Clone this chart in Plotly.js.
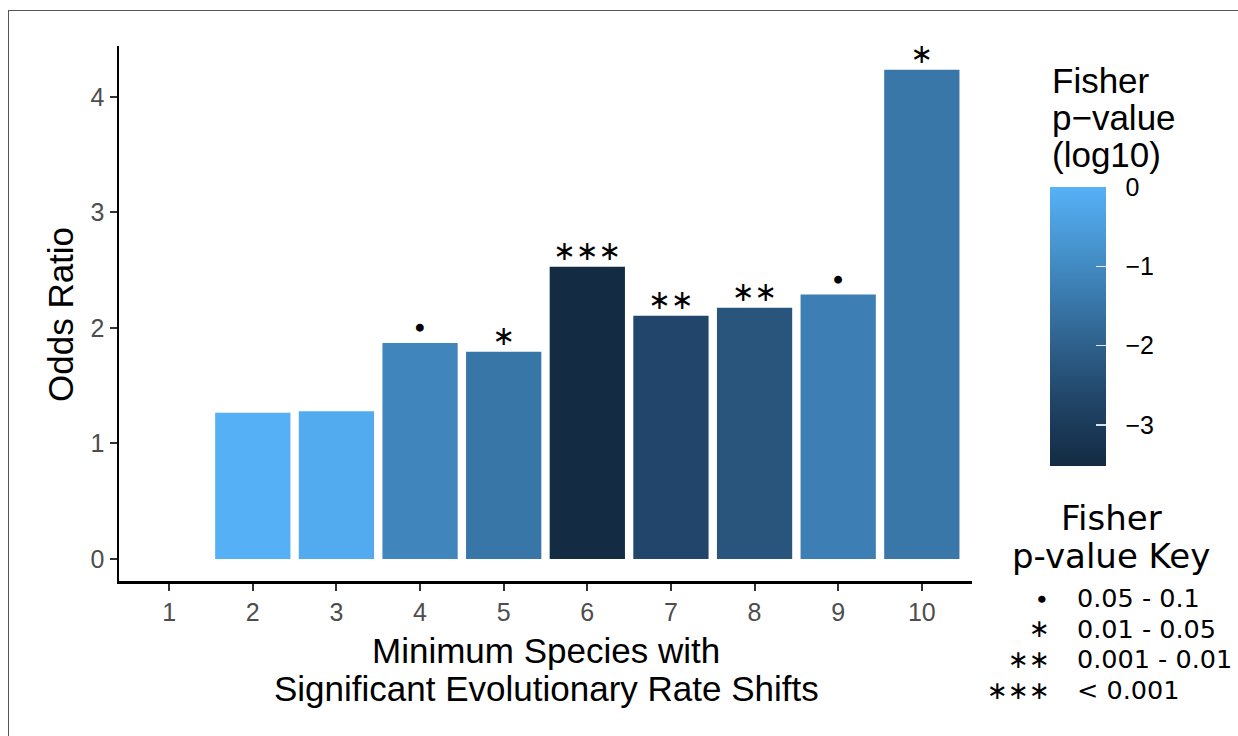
<!DOCTYPE html>
<html>
<head>
<meta charset="utf-8">
<script src="https://cdn.plot.ly/plotly-3.0.1.min.js"></script>
<style>
  html, body { margin: 0; padding: 0; background: #fff; }
  #wrap { position: absolute; left: 0; top: 0; width: 1238px; height: 736px; }
  #frame { position: absolute; left: 8px; top: 10px; right: 0; bottom: 0; border-left: 1.5px solid #555; border-top: 1.5px solid #555; pointer-events: none; z-index: 5; }
  #chart { position: absolute; left: 0; top: 0; width: 1238px; height: 736px; }
</style>
</head>
<body>
<div id="wrap">
  <div id="chart"></div>
  <div id="frame"></div>
</div>
<script>
// ---- data ----
const categories = [1, 2, 3, 4, 5, 6, 7, 8, 9, 10];
const oddsRatio = [null, 1.265, 1.28, 1.87, 1.795, 2.53, 2.105, 2.175, 2.29, 4.235];
const log10P = [null, -0.02, -0.15, -1.10, -1.47, -3.52, -2.63, -2.29, -1.25, -1.45];
const sigLabels = ["", "", "", "∙", "∗", "∗∗∗", "∗∗", "∗∗", "∙", "∗"];
const xTickLabels = ["1", "2", "3", "4", "5", "6", "7", "8", "9", "10"];
const yTickVals = [0, 1, 2, 3, 4];
const colorTicks = [0, -1, -2, -3];
const colorTitleLines = ["Fisher", "p\u2212value", "(log10)"];
const keyTitleLines = ["Fisher", "p-value Key"];
const keySymbols = ["∙", "∗", "∗∗", "∗∗∗"];
const keyRanges = ["0.05 - 0.1", "0.01 - 0.05", "0.001 - 0.01", "< 0.001"];
const xTitleLines = ["Minimum Species with", "Significant Evolutionary Rate Shifts"];
const yTitle = "Odds Ratio";

// ---- layout geometry helpers (pixels -> paper) ----
const L = 119, R = 972, T = 46, B = 581;
const px = v => (v - L) / (R - L);
const py = v => (B - v) / (B - T);

const SANS = "Liberation Sans, Arial, sans-serif";
const DEJA = "DejaVu Sans, Verdana, sans-serif";

const cmin = -3.52, cmax = 0;
const colorscale = [
  [0, "#132B43"],
  [0.25, "#22466A"],
  [0.5, "#336A98"],
  [0.75, "#448FC8"],
  [1, "#56B1F7"]
];

const bars = {
  type: "bar",
  x: categories,
  y: oddsRatio,
  width: 0.9,
  marker: {
    color: log10P,
    colorscale: colorscale,
    cmin: cmin,
    cmax: cmax,
    showscale: true,
    line: { width: 0 },
    colorbar: {
      xref: "paper",
      yref: "paper",
      x: px(1050),
      xanchor: "left",
      y: py(466),
      yanchor: "bottom",
      len: 279,
      lenmode: "pixels",
      thickness: 56,
      thicknessmode: "pixels",
      outlinewidth: 0,
      tickvals: colorTicks,
      ticktext: colorTicks.map(v => "\u00a0\u00a0" + (v === 0 ? "0" : "\u2212" + Math.abs(v))),
      ticks: "inside",
      ticklen: 10,
      tickwidth: 1.5,
      tickcolor: "rgba(255,255,255,0.85)",
      tickfont: { family: SANS, size: 25, color: "#000" },
      xpad: 0,
      ypad: 0
    }
  },
  hoverinfo: "x+y",
  showlegend: false
};

const labels = {
  type: "scatter",
  mode: "text",
  x: categories,
  y: oddsRatio,
  text: sigLabels,
  textposition: "top center",
  textfont: { family: "DejaVu Sans, sans-serif", size: 27, color: "#000" },
  hoverinfo: "skip",
  showlegend: false
};

const annotations = [];
function ann(text, xp, yp, xanchor, font, extra) {
  annotations.push(Object.assign({
    xref: "paper", yref: "paper",
    x: px(xp), y: py(yp),
    text: text, showarrow: false,
    xanchor: xanchor, yanchor: "middle",
    font: font
  }, extra || {}));
}
// axis titles
xTitleLines.forEach((t, i) => ann(t, 546, 650 + i * 38, "center", { family: SANS, size: 35, color: "#000" }));
ann(yTitle, 60, 315, "center", { family: SANS, size: 35, color: "#000" }, { textangle: -90 });
// colorbar title
colorTitleLines.forEach((t, i) => ann(t, 1050, 80 + i * 37, "left", { family: SANS, size: 35, color: "#000" }));
// key
keyTitleLines.forEach((t, i) => ann(t, 1111, 518 + i * 38, "center", { family: DEJA, size: 34, color: "#000" }));
keySymbols.forEach((s, i) => {
  const yy = 598 + i * 30.7;
  ann(s, 1052, yy, "right", { family: DEJA, size: 25, color: "#000" });
  ann(keyRanges[i], 1075, yy, "left", { family: DEJA, size: 25.5, color: "#000" });
});

const axisCommon = {
  showgrid: false,
  zeroline: false,
  showline: true,
  linecolor: "#000",
  linewidth: 2.5,
  ticks: "outside",
  ticklen: 7,
  tickwidth: 2,
  tickcolor: "#333",
  tickfont: { family: SANS, size: 25, color: "#4D4D4D" }
};

const layout = {
  width: 1238,
  height: 736,
  margin: { l: L, r: 1238 - R, t: T, b: 736 - B, pad: 0 },
  paper_bgcolor: "#fff",
  plot_bgcolor: "#fff",
  xaxis: Object.assign({}, axisCommon, {
    range: [0.4, 10.6],
    tickmode: "array",
    tickvals: categories,
    ticktext: xTickLabels
  }),
  yaxis: Object.assign({}, axisCommon, {
    range: [-0.19, 4.44],
    tickmode: "array",
    tickvals: yTickVals,
    ticktext: yTickVals.map(String)
  }),
  annotations: annotations
};

Plotly.newPlot("chart", [bars, labels], layout, { displayModeBar: false, staticPlot: true });
</script>
</body>
</html>
